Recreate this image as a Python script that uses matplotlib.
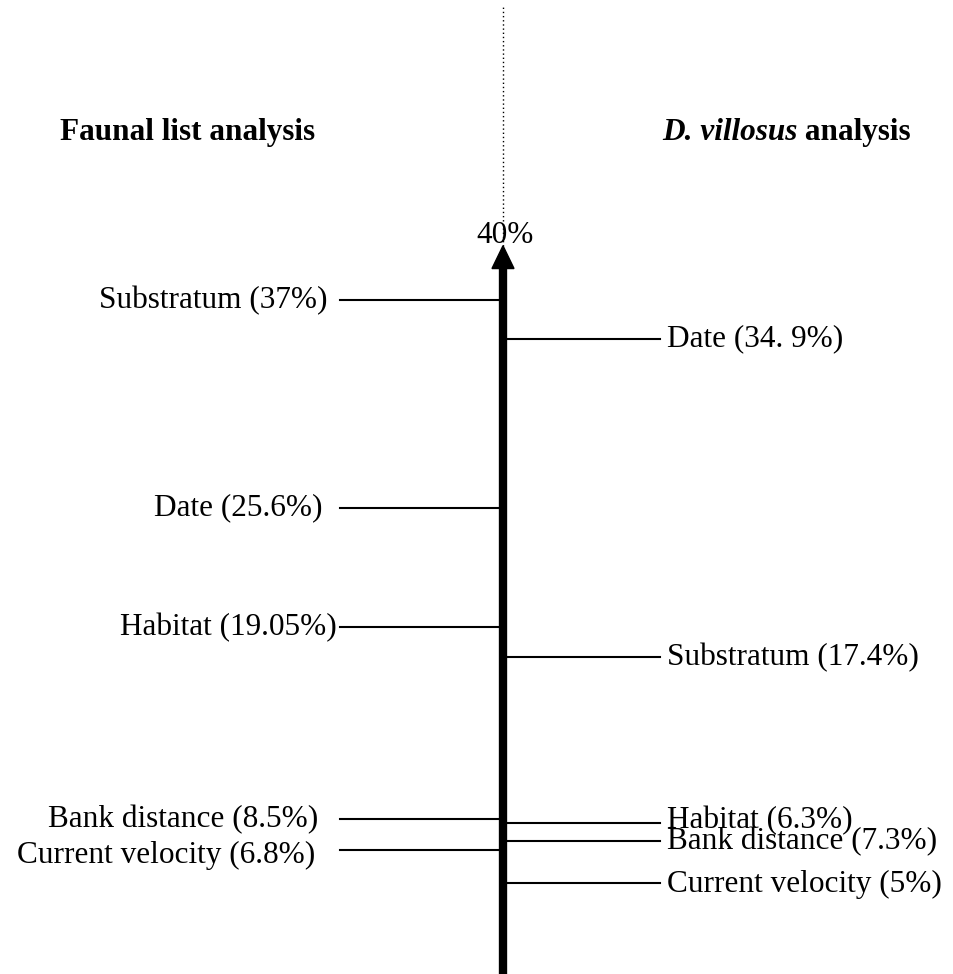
import matplotlib
matplotlib.use("Agg")
import matplotlib.pyplot as plt
from matplotlib.patches import Polygon

# ---- data ----
left_title = "Faunal list analysis"
right_title_italic = "D. villosus"
right_title_rest = " analysis"

left_labels = ["Substratum (37%)", "Date (25.6%)", "Habitat (19.05%)",
               "Bank distance (8.5%)", "Current velocity (6.8%)"]
left_values = [37.0, 25.6, 19.05, 8.5, 6.8]

right_labels = ["Date (34. 9%)", "Substratum (17.4%)", "Habitat (6.3%)",
                "Bank distance (7.3%)", "Current velocity (5%)"]
right_values = [34.9, 17.4, 6.3, 7.3, 5.0]
# level at which each right-hand line is drawn in the original figure
right_levels = [34.9, 17.4, 8.3, 7.3, 5.0]

axis_max = 40.0
axis_max_label = "40%"

# ---- figure ----
W, H = 954, 974
fig = plt.figure(figsize=(W / 100, H / 100), dpi=100)
ax = fig.add_axes([0, 0, 1, 1])
ax.set_xlim(0, W)
ax.set_ylim(0, 53.5)
ax.axis("off")

serif = ["Liberation Serif", "DejaVu Serif"]
fs = 22.5
x_axis = 503
x_left_start = 340
x_right_end = 660
left_text_right = [328, 323, 337, 318, 315]
label_dy_left = [0, 0, 0, 0, -0.3]
label_dy_right = [0, 0, 0.15, -0.05, -0.1]

# dotted line above arrow
ax.plot([x_axis, x_axis], [axis_max, 53.1], color="black", lw=1.0,
        linestyle=(0, (1, 2)), zorder=1)

# thick axis shaft
head_len = 1.25
ax.plot([x_axis, x_axis], [0, axis_max - head_len + 0.1], color="black",
        lw=6.0, solid_capstyle="butt", zorder=3)
ax.add_patch(Polygon([[x_axis - 11, axis_max - head_len],
                      [x_axis + 11, axis_max - head_len],
                      [x_axis, axis_max]], closed=True,
                     facecolor="black", edgecolor="black", zorder=3))
ax.text(x_axis + 2, axis_max + 0.55, axis_max_label, ha="center", va="center",
        fontsize=fs, family=serif, zorder=4)

# left lines and labels
for lab, v, xr, dy in zip(left_labels, left_values, left_text_right, label_dy_left):
    ax.plot([x_left_start, x_axis], [v, v], color="black", lw=1.5, zorder=2)
    ax.text(xr, v + dy, lab, ha="right", va="center",
            fontsize=fs, family=serif)

# right lines and labels
for lab, lv, dy in zip(right_labels, right_levels, label_dy_right):
    ax.plot([x_axis, x_right_end], [lv, lv], color="black", lw=1.5, zorder=2)
    ax.text(x_right_end + 7, lv + dy, lab, ha="left", va="center",
            fontsize=fs, family=serif)

# titles
ty = 46.2
ax.text(60, ty, left_title, ha="left", va="center", fontsize=fs,
        family=serif, fontweight="bold")
t1 = ax.text(662, ty, right_title_italic, ha="left", va="center",
             fontsize=fs, family=serif, fontweight="bold", style="italic")
fig.canvas.draw()
bb = t1.get_window_extent()
x_end = ax.transData.inverted().transform((bb.x1, bb.y0))[0]
ax.text(x_end, ty, right_title_rest, ha="left", va="center", fontsize=fs,
        family=serif, fontweight="bold")

fig.savefig("out.png", dpi=100)
